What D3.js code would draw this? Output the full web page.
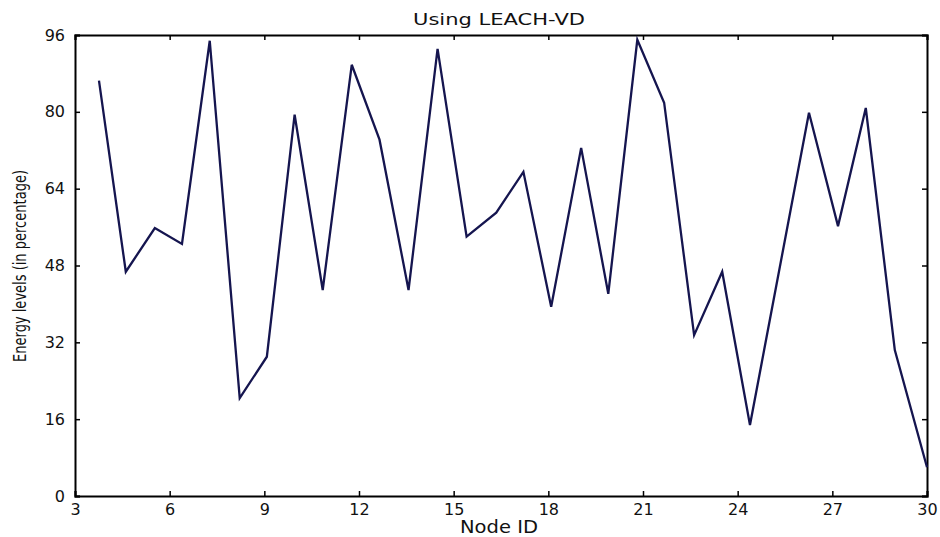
<!DOCTYPE html>
<html>
<head>
<meta charset="utf-8">
<script src="https://cdn.jsdelivr.net/npm/d3@7"></script>
<style>
  body { margin: 0; background: #fff; }
  text { font-family: "DejaVu Sans", "Liberation Sans", Arial, sans-serif; fill: #111; }
</style>
</head>
<body>
<div></div>
<script>
//size of the svg
var width = 940;
var height = 537;

//margins so the plot box sits where the reference has it
var margin = {top: 35, right: 13, bottom: 41, left: 75};

//data
var nodeIds = [3.76, 4.61, 5.53, 6.39, 7.27, 8.22, 9.08, 9.96, 10.85, 11.77,
               12.65, 13.57, 14.49, 15.41, 16.35, 17.21, 18.09, 19.04, 19.9, 20.82,
               21.67, 22.62, 23.51, 24.39, 26.26, 27.18, 28.06, 28.98, 30];
var energy = [86.5, 46.7, 55.8, 52.5, 94.8, 20.4, 29.0, 79.4, 42.9, 89.8,
              74.2, 42.9, 93.1, 54.0, 59.0, 67.5, 39.4, 72.5, 42.1, 95.0,
              81.9, 33.5, 46.7, 14.8, 79.8, 56.2, 80.8, 30.4, 6.0];

//tick values
var xTicks = [3, 6, 9, 12, 15, 18, 21, 24, 27, 30];
var yTicks = [0, 16, 32, 48, 64, 80, 96];

var points = nodeIds.map(function(d, i) { return {id: d, e: energy[i]}; });

var svg = d3.select("div")
            .append("svg")
            .attr("width", width)
            .attr("height", height);

var xScale = d3.scaleLinear()
               .domain([3, 30])
               .range([margin.left, width - margin.right]);
var yScale = d3.scaleLinear()
               .domain([0, 96])
               .range([height - margin.bottom, margin.top]);

//bottom axis
svg.append("g")
   .attr("transform", "translate(0," + (height - margin.bottom) + ")")
   .call(d3.axisBottom(xScale).tickValues(xTicks).tickSize(-5).tickPadding(8))
   .call(function(g) { g.selectAll("text").style("font-size", "16px"); });
//left axis
svg.append("g")
   .attr("transform", "translate(" + margin.left + ",0)")
   .call(d3.axisLeft(yScale).tickValues(yTicks).tickSize(-5).tickPadding(10))
   .call(function(g) { g.selectAll("text").style("font-size", "16px"); });
//top axis, ticks only (box style)
svg.append("g")
   .attr("transform", "translate(0," + margin.top + ")")
   .call(d3.axisTop(xScale).tickValues(xTicks).tickSize(-5).tickFormat(""));
//right axis, ticks only
svg.append("g")
   .attr("transform", "translate(" + (width - margin.right) + ",0)")
   .call(d3.axisRight(yScale).tickValues(yTicks).tickSize(-5).tickFormat(""));

svg.selectAll(".domain").attr("stroke", "#000").attr("stroke-width", 2);
svg.selectAll(".tick line").attr("stroke", "#000").attr("stroke-width", 1.5);

//the energy line
var lineGen = d3.line()
                .x(function(d) { return xScale(d.id); })
                .y(function(d) { return yScale(d.e); });

svg.append("path")
   .datum(points)
   .attr("d", lineGen)
   .attr("fill", "none")
   .attr("stroke", "#15154f")
   .attr("stroke-width", 2.3)
   .attr("stroke-linejoin", "miter");

//title
svg.append("text")
   .text("Using LEACH-VD")
   .attr("x", 499)
   .attr("y", 25)
   .attr("text-anchor", "middle")
   .attr("textLength", 172)
   .attr("lengthAdjust", "spacingAndGlyphs")
   .style("font-size", "16px");

//x label
svg.append("text")
   .text("Node ID")
   .attr("x", 499)
   .attr("y", 533)
   .attr("text-anchor", "middle")
   .attr("textLength", 78)
   .attr("lengthAdjust", "spacingAndGlyphs")
   .style("font-size", "17px");

//y label
svg.append("text")
   .text("Energy levels (in percentage)")
   .attr("transform", "translate(26," + 266 + ") rotate(-90)")
   .attr("text-anchor", "middle")
   .attr("textLength", 192)
   .attr("lengthAdjust", "spacingAndGlyphs")
   .style("font-size", "17px");
</script>
</body>
</html>
